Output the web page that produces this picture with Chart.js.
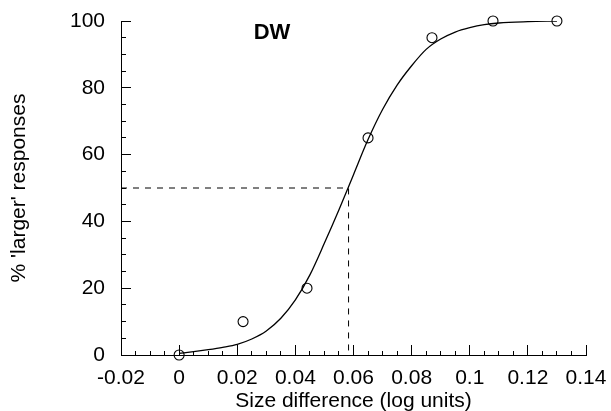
<!DOCTYPE html>
<html>
<head>
<meta charset="utf-8">
<script src="https://cdn.jsdelivr.net/npm/chart.js@4"></script>
<style>
  html, body { margin: 0; padding: 0; background: #fff; }
  canvas { display: block; }
</style>
</head>
<body>
<canvas id="c" width="611" height="411"></canvas>
<script>
// ---- data ----
const obsX = [0, 0.022, 0.044, 0.065, 0.087, 0.108, 0.13];
const obsY = [0, 10, 20, 65, 95, 100, 100];

const fitX = [0, 0.005, 0.01, 0.015, 0.02, 0.025, 0.03, 0.035, 0.04, 0.045, 0.05, 0.055, 0.06, 0.065, 0.07, 0.075, 0.08, 0.085, 0.09, 0.095, 0.1, 0.105, 0.11, 0.12, 0.13];
const fitY = [0.5, 1.0, 1.6, 2.3, 3.2, 4.8, 7.2, 11.0, 16.5, 24.0, 33.5, 43.5, 54.0, 64.5, 73.5, 80.8, 86.6, 91.5, 94.6, 96.7, 98.0, 98.9, 99.4, 99.8, 100];

const thresholdX = 0.0583;
const thresholdY = 50;

const xTickValues = [-0.02, 0, 0.02, 0.04, 0.06, 0.08, 0.1, 0.12, 0.14];
const xTickLabels = ['-0.02', '0', '0.02', '0.04', '0.06', '0.08', '0.1', '0.12', '0.14'];
const xMinorTicks = [-0.015, -0.01, -0.005, 0.005, 0.01, 0.015, 0.025, 0.03, 0.035, 0.045, 0.05, 0.055,
                     0.065, 0.07, 0.075, 0.085, 0.09, 0.095, 0.105, 0.11, 0.115, 0.125, 0.13, 0.135];
const yTickValues = [0, 20, 40, 60, 80, 100];
const yTickLabels = ['0', '20', '40', '60', '80', '100'];
const yMinorTicks = [5, 10, 15, 25, 30, 35, 45, 50, 55, 65, 70, 75, 85, 90, 95];

const titleText = 'DW';
const xTitle = 'Size difference (log units)';
const yTitle = "% 'larger' responses";

// ---- chart ----
const FONT = "'Liberation Sans', Arial, Helvetica, sans-serif";

const isMajor = (list, v) => list.some(t => Math.abs(t - v) < 1e-9);
const allX = xTickValues.concat(xMinorTicks).sort((a, b) => a - b);
const allY = yTickValues.concat(yMinorTicks).sort((a, b) => a - b);

const panelLabel = {
  id: 'panelLabel',
  afterDraw(chart) {
    const ctx = chart.ctx;
    ctx.save();
    ctx.fillStyle = '#000';
    ctx.font = "bold 22px " + FONT;
    ctx.textAlign = 'center';
    ctx.textBaseline = 'middle';
    ctx.fillText(titleText, 272, 33);
    ctx.restore();
  }
};

function zeroPadding(s) {
  s.paddingLeft = 0;
  s.paddingRight = 0;
  s.paddingTop = 0;
  s.paddingBottom = 0;
}

new Chart(document.getElementById('c'), {
  type: 'scatter',
  data: {
    datasets: [
      {
        label: 'fit',
        data: fitX.map((x, i) => ({ x, y: fitY[i] })),
        showLine: true,
        borderColor: '#000',
        borderWidth: 1.3,
        pointRadius: 0,
        cubicInterpolationMode: 'monotone',
        fill: false
      },
      {
        label: 'observed',
        data: obsX.map((x, i) => ({ x, y: obsY[i] })),
        showLine: false,
        pointStyle: 'circle',
        pointRadius: 5,
        borderColor: '#000',
        borderWidth: 1.1,
        backgroundColor: 'rgba(0,0,0,0)',
        clip: false
      },
      {
        label: 'threshold',
        data: [{ x: xTickValues[0], y: thresholdY }, { x: thresholdX, y: thresholdY }, { x: thresholdX, y: 0 }],
        showLine: true,
        borderColor: '#000',
        borderWidth: 1,
        borderDash: [6, 6],
        pointRadius: 0,
        tension: 0,
        fill: false
      }
    ]
  },
  options: {
    responsive: false,
    animation: false,
    devicePixelRatio: 1,
    layout: { padding: { left: 0, right: 25, top: 21, bottom: 0 } },
    plugins: {
      legend: { display: false },
      tooltip: { enabled: false },
      title: { display: false }
    },
    scales: {
      x: {
        type: 'linear',
        min: -0.02,
        max: 0.14,
        afterBuildTicks: s => { s.ticks = allX.map(v => ({ value: v })); },
        afterFit: s => { s.height = 56; zeroPadding(s); },
        grid: {
          display: true,
          drawOnChartArea: false,
          drawTicks: true,
          tickLength: -10,
          tickColor: '#000',
          tickWidth: 1,
          tickBorderDash: (ctx) => (ctx.tick && isMajor(xTickValues, ctx.tick.value)) ? [] : [5, 20]
        },
        border: { display: true, color: '#000', width: 1 },
        ticks: {
          color: '#000',
          font: { family: FONT, size: 21 },
          padding: 21,
          maxRotation: 0,
          autoSkip: false,
          callback: (v) => { const i = xTickValues.findIndex(t => Math.abs(t - v) < 1e-9); return i >= 0 ? xTickLabels[i] : ''; }
        },
        title: {
          display: true,
          text: xTitle,
          color: '#000',
          font: { family: FONT, size: 21 },
          padding: { top: 0, bottom: -3 }
        }
      },
      y: {
        type: 'linear',
        min: 0,
        max: 100,
        afterBuildTicks: s => { s.ticks = allY.map(v => ({ value: v })); },
        afterFit: s => { s.width = 121; zeroPadding(s); },
        grid: {
          display: true,
          drawOnChartArea: false,
          drawTicks: true,
          tickLength: -10,
          tickColor: '#000',
          tickWidth: 1,
          tickBorderDash: (ctx) => (ctx.tick && isMajor(yTickValues, ctx.tick.value)) ? [] : [0, 5, 5, 20]
        },
        border: { display: true, color: '#000', width: 1 },
        ticks: {
          color: '#000',
          font: { family: FONT, size: 21 },
          padding: 26,
          autoSkip: false,
          callback: (v) => { const i = yTickValues.findIndex(t => Math.abs(t - v) < 1e-9); return i >= 0 ? yTickLabels[i] : ''; }
        },
        title: {
          display: true,
          text: yTitle,
          color: '#000',
          font: { family: FONT, size: 21 },
          padding: { top: 7, bottom: 0 }
        }
      }
    }
  },
  plugins: [panelLabel]
});
</script>
</body>
</html>
